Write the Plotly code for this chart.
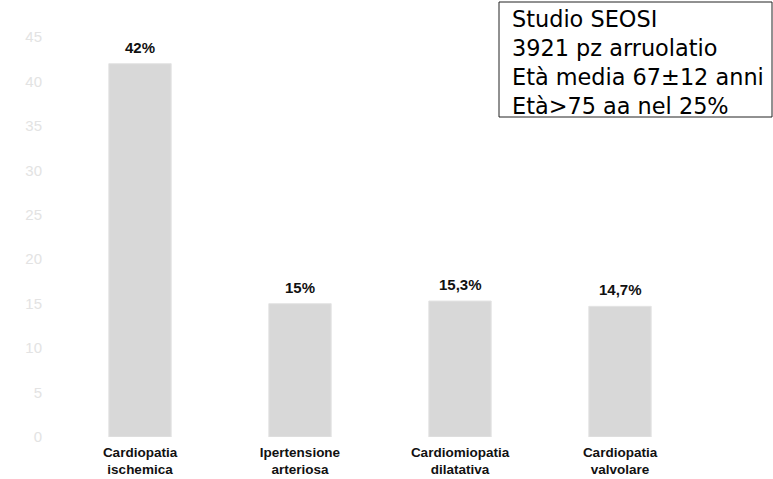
import plotly.graph_objects as go

categories = ["Cardiopatia<br>ischemica", "Ipertensione<br>arteriosa",
              "Cardiomiopatia<br>dilatativa", "Cardiopatia<br>valvolare"]
values = [42, 15, 15.3, 14.7]
value_labels = ["42%", "15%", "15,3%", "14,7%"]
y_ticks = [0, 5, 10, 15, 20, 25, 30, 35, 40, 45]
info_lines = ["Studio SEOSI", "3921 pz arruolatio", "Età media 67±12 anni", "Età>75 aa nel 25%"]

fig = go.Figure()
fig.add_trace(go.Bar(
    x=categories, y=values,
    marker=dict(color="#d8d8d8", line=dict(color="#e4e4e4", width=1)),
    width=0.39, hoverinfo="skip",
))

for c, v, t in zip(categories, values, value_labels):
    fig.add_annotation(x=c, y=v, text="<b>%s</b>" % t, showarrow=False,
                       yanchor="bottom", yshift=6,
                       font=dict(family="Liberation Sans, Arial", size=15, color="#111"))

# info box
fig.add_shape(type="rect", xref="paper", yref="paper",
              x0=(499 - 60) / 640, x1=(772 - 60) / 640,
              y0=(437 - 117) / 400, y1=(437 - 2) / 400,
              line=dict(color="#222", width=1), fillcolor="white")
fig.add_annotation(xref="paper", yref="paper",
                   x=(510 - 60) / 640, y=(437 - 62) / 400,
                   xanchor="left", yanchor="middle", align="left",
                   text="<br>".join(info_lines), showarrow=False,
                   font=dict(family="DejaVu Sans", size=22.4, color="#000"))

fig.update_layout(
    width=773, height=479,
    margin=dict(l=60, r=73, t=37, b=42),
    paper_bgcolor="white", plot_bgcolor="white",
    showlegend=False,
    xaxis=dict(range=[-0.5, 3.5], showline=False, showgrid=False, ticks="",
               ticklabelstandoff=5, automargin=False,
               tickfont=dict(family="Liberation Sans, Arial", size=13.5, color="#111"),
               tickprefix="<b>", ticksuffix="</b>"),
    yaxis=dict(range=[0, 45], tickvals=y_ticks, showgrid=False, zeroline=False,
               showline=False, ticks="", ticklabelstandoff=17, automargin=False,
               tickfont=dict(family="Liberation Sans, Arial", size=15, color="#e3e3e3")),
)

fig.write_html("out.html")
